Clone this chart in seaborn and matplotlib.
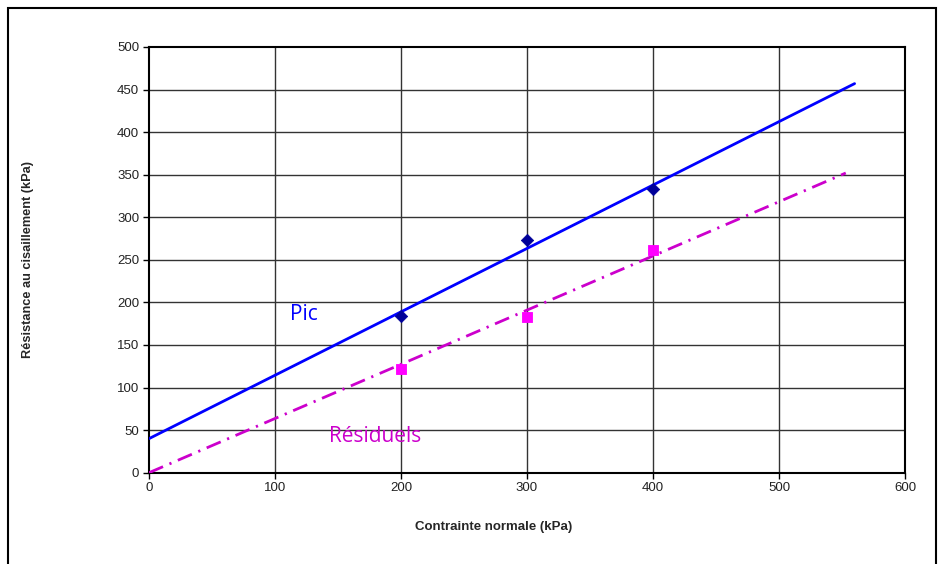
import matplotlib
matplotlib.use("Agg")
import matplotlib.pyplot as plt
import matplotlib.patches as mpatches
import seaborn as sns
import pandas as pd

# ---- data ----
contrainte = [200, 300, 400]
pic_values = [184, 273, 333]
residuel_values = [122, 183, 262]
# trend lines (end points)
pic_line_x = [0, 560]
pic_line_y = [40, 457]
res_line_x = [0, 553]
res_line_y = [0, 352]

x_ticks = [0, 100, 200, 300, 400, 500, 600]
y_ticks = [0, 50, 100, 150, 200, 250, 300, 350, 400, 450, 500]

sns.set_theme(style="white")
plt.rcParams['font.family'] = ['Liberation Sans', 'DejaVu Sans']
plt.rcParams['lines.scale_dashes'] = False

fig = plt.figure(figsize=(9.39, 5.64), dpi=100)
ax = fig.add_axes([149/939, 1-472.7/564, (905-149)/939, (472.7-47)/564])

pts = pd.DataFrame({
    "x": contrainte * 2,
    "y": pic_values + residuel_values,
    "serie": ["Pic"] * 3 + ["Résiduels"] * 3,
})
lines_pic = pd.DataFrame({"x": pic_line_x, "y": pic_line_y})
lines_res = pd.DataFrame({"x": res_line_x, "y": res_line_y})

# grid
for v in y_ticks[1:-1]:
    ax.axhline(v, color="#333333", lw=1.0, zorder=0.5)
for v in x_ticks[1:-1]:
    ax.axvline(v, color="#333333", lw=1.0, zorder=0.5)

sns.lineplot(data=lines_pic, x="x", y="y", ax=ax, color="#0000FF", lw=2.0, zorder=3)
sns.lineplot(data=lines_res, x="x", y="y", ax=ax, color="#CC00CC", lw=2.0, zorder=3)
ax.lines[-1].set_dashes([11, 5, 1.6, 5])

sns.scatterplot(data=pts[pts.serie == "Pic"], x="x", y="y", ax=ax, marker="D",
                color="#000099", s=40, edgecolor="#000099", zorder=4, legend=False)
sns.scatterplot(data=pts[pts.serie == "Résiduels"], x="x", y="y", ax=ax, marker="s",
                color="#FF00FF", s=60, edgecolor="#FF00FF", zorder=4, legend=False)

ax.set_xlim(0, 600)
ax.set_ylim(0, 500)
ax.set_xticks(x_ticks)
ax.set_yticks(y_ticks)
ax.tick_params(axis="both", labelsize=9.5, colors="black", labelcolor="#222222",
               direction="out", length=4, width=1, pad=3, left=True, bottom=True)
for s in ax.spines.values():
    s.set_color("black")
    s.set_linewidth(1.5)

ax.set_xlabel("Contrainte normale (kPa)", fontsize=9.5, fontweight="bold")
ax.xaxis.set_label_coords((494-149)/756, -(527-472.7)/425.7)
ax.set_ylabel("Résistance au cisaillement (kPa)", fontsize=9.2, fontweight="bold")
ax.yaxis.set_label_coords(-(149-28)/756, 0.5)
ax.xaxis.label.set_va("center")
ax.yaxis.label.set_va("center")

ax.text(112, 186, "Pic", color="#0000FF", fontsize=15, family=["Open Sans", "DejaVu Sans"],
        va="center", ha="left")
ax.text(143, 42, "Résiduels", color="#CC00CC", fontsize=15, family=["Open Sans", "DejaVu Sans"],
        va="center", ha="left")

# outer chart frame
fig.patches.append(mpatches.Rectangle((8/939, -0.05), (936-8)/939, 1-8/564+0.05,
                                      transform=fig.transFigure, fill=False,
                                      edgecolor="black", lw=1.5))

fig.savefig("out.png", dpi=100)
